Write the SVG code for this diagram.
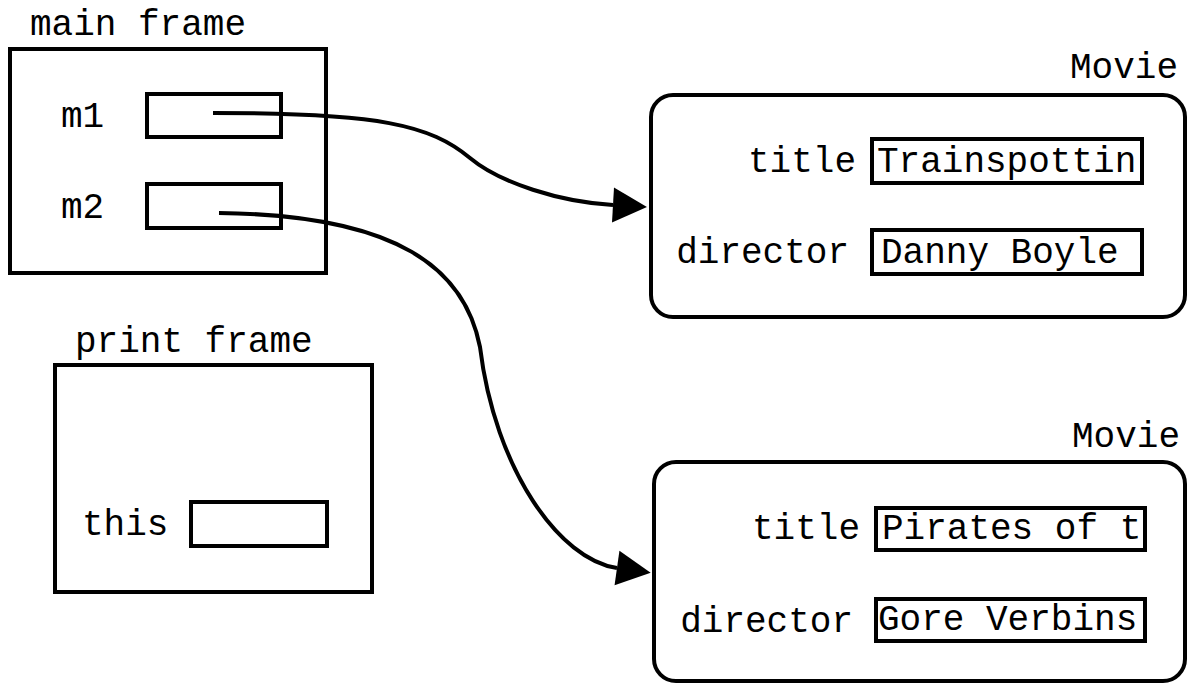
<svg xmlns="http://www.w3.org/2000/svg" width="1188" height="685" viewBox="0 0 1188 685">
  <style>
    text { font-family: "Liberation Mono", "Courier New", monospace; font-size: 36px; fill: #000; }
    .box { fill: none; stroke: #000; stroke-width: 4; }
    .obj { fill: #fff; stroke: #000; stroke-width: 4; }
    .edge { fill: none; stroke: #000; stroke-width: 4; }
    .end { text-anchor: end; }
  </style>
  <defs>
    <marker id="arrow" markerUnits="userSpaceOnUse" markerWidth="40" markerHeight="40" refX="0" refY="17.5" orient="auto" overflow="visible">
      <path d="M0,0 L34,17.5 L0,35 z" fill="#000"/>
    </marker>
  </defs>
  <rect width="1188" height="685" fill="#fff"/>

  <g id="main-frame">
    <text x="30" y="35">main frame</text>
    <rect class="box" x="10" y="49" width="316" height="224"/>
    <text x="61" y="127">m1</text>
    <rect class="box" x="147" y="94" width="134" height="43"/>
    <text x="61" y="218">m2</text>
    <rect class="box" x="147" y="184" width="134" height="44"/>
  </g>

  <g id="print-frame">
    <text x="75" y="352">print frame</text>
    <rect class="box" x="55" y="365" width="317" height="227"/>
    <text x="82" y="535">this</text>
    <rect class="box" x="191" y="502" width="136" height="44"/>
  </g>

  <g id="movie1">
    <text class="end" x="1178" y="78">Movie</text>
    <rect class="obj" x="651" y="95" width="534" height="222" rx="22"/>
    <text class="end" x="856" y="172">title</text>
    <rect class="box" x="872" y="139" width="270" height="44"/>
    <text x="877" y="172">Trainspottin</text>
    <text class="end" x="849" y="263">director</text>
    <rect class="box" x="872" y="230" width="270" height="44"/>
    <text x="881" y="263">Danny Boyle</text>
  </g>

  <g id="movie2">
    <text class="end" x="1180" y="447">Movie</text>
    <rect class="obj" x="654" y="462" width="531" height="219" rx="22"/>
    <text class="end" x="860" y="539">title</text>
    <rect class="box" x="876" y="508" width="269" height="42"/>
    <text x="882" y="539">Pirates of t</text>
    <text class="end" x="853" y="632">director</text>
    <rect class="box" x="876" y="599" width="269" height="42"/>
    <text x="878" y="630">Gore Verbins</text>
  </g>

  <g id="connectors">
    <path class="edge" marker-end="url(#arrow)" d="M213,113 C380,113 430,125 470,158 C500,183 560,202 613,205"/>
    <path class="edge" marker-end="url(#arrow)" d="M219,213 C400,215 465,270 480,347 C495,470 560,560 617,568"/>
  </g>
</svg>
